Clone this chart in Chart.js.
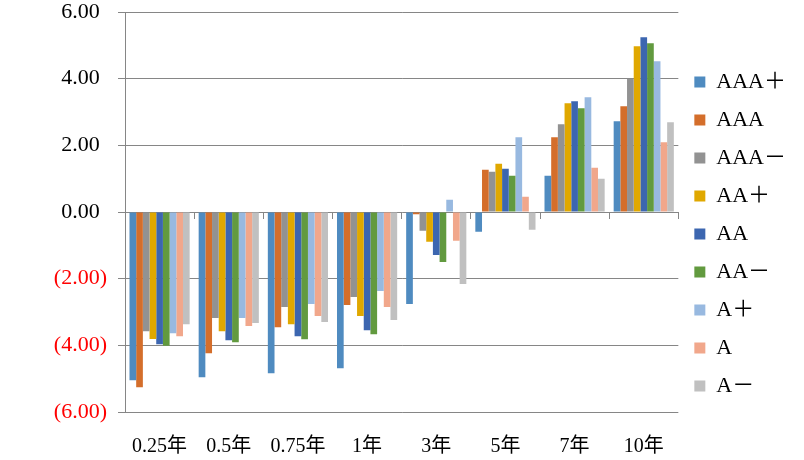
<!DOCTYPE html>
<html>
<head>
<meta charset="utf-8">
<script src="https://cdn.jsdelivr.net/npm/chart.js@4"></script>
<style>
  html, body { margin: 0; padding: 0; background: #fff; }
  #wrap { width: 804px; height: 460px; }
</style>
</head>
<body>
<div id="wrap"><canvas id="chart" width="804" height="460"></canvas></div>
<script>
// categories (tenor)
const tenors = ["0.25年", "0.5年", "0.75年", "1年", "3年", "5年", "7年", "10年"];

// series values per rating
const aaaPlus  = [-5.05, -4.96, -4.84, -4.69, -2.76, -0.59, 1.09, 2.72];
const aaa      = [-5.26, -4.24, -3.46, -2.79, -0.07,  1.27, 2.24, 3.17];
const aaaMinus = [-3.58, -3.18, -2.85, -2.55, -0.56,  1.21, 2.63, 4.00];
const aaPlus   = [-3.81, -3.58, -3.37, -3.12, -0.89,  1.45, 3.26, 4.97];
const aa       = [-3.97, -3.85, -3.73, -3.55, -1.29,  1.30, 3.32, 5.24];
const aaMinus  = [-4.01, -3.91, -3.82, -3.67, -1.50,  1.09, 3.11, 5.06];
const aPlus    = [-3.64, -3.18, -2.76, -2.37,  0.37,  2.24, 3.44, 4.52];
const aMid     = [-3.73, -3.42, -3.12, -2.85, -0.86,  0.46, 1.33, 2.09];
const aMinus   = [-3.37, -3.33, -3.30, -3.24, -2.16, -0.53, 1.00, 2.69];

const seriesNames = ["AAA＋", "AAA", "AAA－", "AA＋", "AA", "AA－", "A＋", "A", "A－"];
const seriesData = [aaaPlus, aaa, aaaMinus, aaPlus, aa, aaMinus, aPlus, aMid, aMinus];
const seriesColors = ["#4F8BC0", "#D46E2B", "#929292", "#E0A800", "#3C66B0", "#629A3F", "#98B9E0", "#F1A78B", "#C0C0C0"];

const yTicks = [-6, -4, -2, 0, 2, 4, 6];

const gridGray = "#868686";
const serif = "'Liberation Serif', 'Times New Roman', 'Noto Sans CJK SC', serif";

const datasets = seriesNames.map((name, i) => ({
    label: name,
    data: seriesData[i],
    backgroundColor: seriesColors[i],
    borderWidth: 0,
    categoryPercentage: 0.87,
    barPercentage: 1.0,
}));

// accounting style: negatives in brackets, positives keep room for ")"
function fmtTick(v) {
    if (v < 0) return "(" + Math.abs(v).toFixed(2) + ")";
    return v.toFixed(2) + "\u2004";
}

const ctx = document.getElementById("chart").getContext("2d");
new Chart(ctx, {
    type: "bar",
    data: { labels: tenors, datasets: datasets },
    options: {
        responsive: false,
        animation: false,
        layout: { padding: { top: 8, right: 8, bottom: 0, left: 0 } },
        plugins: {
            tooltip: { enabled: false },
            legend: {
                position: "right",
                labels: {
                    boxWidth: 11,
                    boxHeight: 11,
                    padding: 16,
                    color: "#000",
                    font: { family: serif, size: 22 },
                },
            },
        },
        scales: {
            x: {
                position: "bottom",
                grid: { display: false },
                border: { display: false },
                ticks: { color: "#000", font: { family: serif, size: 20 }, padding: 15, maxRotation: 0 },
                afterFit: (s) => { s.height = 48; },
            },
            // axis line crossing at zero with tick marks between categories
            xZero: {
                type: "category",
                position: { y: 0 },
                offset: true,
                grid: { offset: true, drawOnChartArea: false, drawTicks: true, tickLength: 7, color: gridGray },
                border: { display: false },
                ticks: { display: false },
                afterFit: (s) => { s.height = 0; },
            },
            y: {
                min: -6,
                max: 6,
                afterBuildTicks: (s) => { s.ticks = yTicks.map((v) => ({ value: v })); },
                grid: { color: gridGray, tickLength: 7, lineWidth: 1 },
                border: { color: gridGray },
                ticks: {
                    padding: 11,
                    font: { family: serif, size: 22 },
                    color: (c) => (c.tick && c.tick.value < 0 ? "#FF0000" : "#000"),
                    callback: fmtTick,
                },
                afterFit: (s) => { s.width = 125; s.paddingTop = 12; },
            },
        },
    },
});
</script>
</body>
</html>
